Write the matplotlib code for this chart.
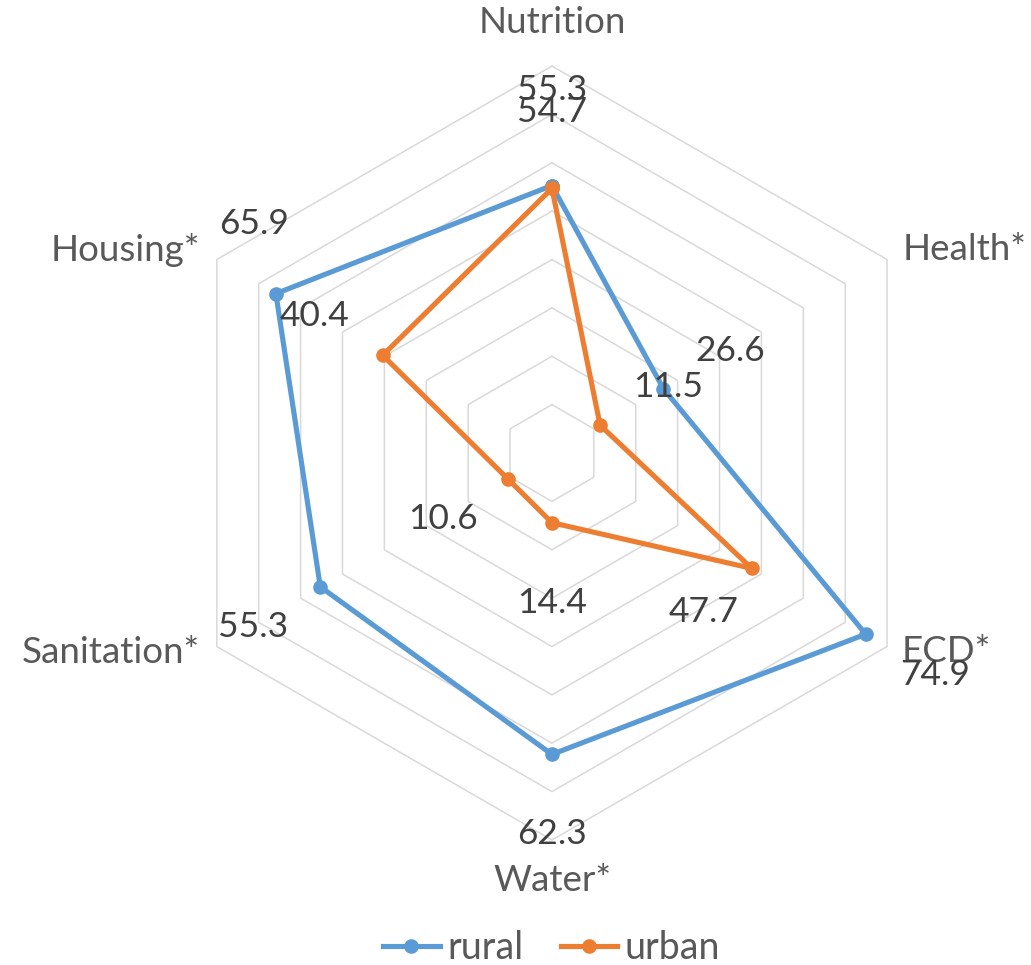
import numpy as np
import matplotlib.pyplot as plt

# data
categories = ["Nutrition", "Health*", "ECD*", "Water*", "Sanitation*", "Housing*"]
rural = [55.3, 26.6, 74.9, 62.3, 55.3, 65.9]
urban = [54.7, 11.5, 47.7, 14.4, 10.6, 40.4]
ring_values = [10, 20, 30, 40, 50, 60, 70, 80]

# label offsets in pixels (dx, dy up) from each point
rural_offsets = [(0, 96), (67, 38), (69, -41), (0, -80), (-67, -40), (-22, 70)]
urban_offsets = [(0, 76), (68, 38), (-48, -44), (0, -80), (-65, -40), (-68, 39)]
cat_offsets = [(0, 44, 'center'), (16, 10, 'left'), (15, -5, 'left'),
               (0, -40, 'center'), (-17, -6, 'right'), (-17, 10, 'right')]

plt.rcParams['font.family'] = ['Lato', 'DejaVu Sans']

rural_color = '#5B9BD5'
urban_color = '#ED7D31'
grid_color = '#D9D9D9'
px = 0.72  # pixels -> points at dpi 100

fig = plt.figure(figsize=(10.31, 9.65), dpi=100)
ax = fig.add_axes([0.1600, 0.1295, 0.7507, 0.8021], projection='polar')
ax.set_theta_zero_location('N')
ax.set_theta_direction(-1)
ax.set_ylim(0, 80)
ax.grid(False)
ax.spines['polar'].set_visible(False)
ax.set_xticks([])
ax.set_yticks([])
ax.patch.set_alpha(0)

angles = np.deg2rad(np.arange(len(categories)) * 60.0)
closed = np.append(angles, angles[0])

# hexagonal grid rings
for r in ring_values:
    ax.plot(closed, [r] * len(closed), color=grid_color, lw=1.1, zorder=1, clip_on=False)

# series
ax.plot(closed, rural + rural[:1], color=rural_color, lw=3.7, marker='o', ms=9.5,
        label='rural', zorder=3, clip_on=False)
ax.plot(closed, urban + urban[:1], color=urban_color, lw=3.7, marker='o', ms=9.5,
        label='urban', zorder=4, clip_on=False)

# data labels
for vals, offs in [(rural, rural_offsets), (urban, urban_offsets)]:
    for a, v, (dx, dy) in zip(angles, vals, offs):
        ax.annotate(f"{v:.1f}", xy=(a, v), xytext=(dx * px, dy * px),
                    textcoords='offset points', ha='center', va='center',
                    fontsize=25.5, color='#404040', zorder=5, annotation_clip=False)

# category labels
for a, name, (dx, dy, ha) in zip(angles, categories, cat_offsets):
    ax.annotate(name, xy=(a, 80), xytext=(dx * px, dy * px),
                textcoords='offset points', ha=ha, va='center',
                fontsize=26.5, color='#595959', annotation_clip=False)

fig.legend(loc='center', bbox_to_anchor=(0.535, 0.018), ncol=2, frameon=False,
           fontsize=27, labelcolor='#595959', handlelength=1.5,
           handletextpad=0.2, columnspacing=1.0, borderpad=0)

fig.savefig('out.png', dpi=100)
